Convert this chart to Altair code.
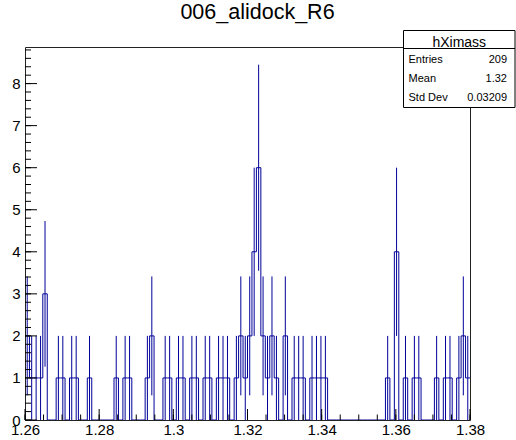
import altair as alt
import numpy as np
import pandas as pd

# Histogram definition: 100 bins over [1.26, 1.38]
X_LO, X_HI = 1.26, 1.38
BIN_W = 0.0012
Y_MAX = 8.87
counts = [
    2, 1, 1, 1, 3, 0, 0, 1, 1, 0,   # 1.2600 - 1.2720
    1, 1, 0, 0, 1, 0, 0, 0, 0, 0,   # 1.2720 - 1.2840
    1, 0, 1, 1, 0, 0, 0, 1, 2, 0,   # 1.2840 - 1.2960
    0, 1, 1, 0, 1, 1, 0, 1, 1, 0,   # 1.2960 - 1.3080
    1, 1, 0, 1, 1, 1, 0, 1, 2, 1,   # 1.3080 - 1.3200
    2, 4, 6, 2, 1, 2, 1, 0, 2, 0,   # 1.3200 - 1.3320
    1, 1, 1, 0, 1, 1, 1, 1, 0, 0,   # 1.3320 - 1.3440
    0, 0, 0, 0, 0, 0, 0, 0, 0, 0,   # 1.3440 - 1.3560
    0, 1, 0, 4, 0, 1, 0, 1, 1, 0,   # 1.3560 - 1.3680
    0, 0, 1, 0, 1, 1, 0, 1, 2, 1,   # 1.3680 - 1.3800
]

# Stats box
hist_name = "hXimass"
stat_names = ["Entries", "Mean", "Std Dev"]
stat_values = ["209", "1.32", "0.03209"]
title_text = "006_alidock_R6"

# Axis ticks
x_labels = [1.26, 1.28, 1.30, 1.32, 1.34, 1.36, 1.38]
x_minor = [round(1.26 + 0.005 * i, 3) for i in range(25)]
y_labels = [0, 1, 2, 3, 4, 5, 6, 7, 8]
y_minor = [round(0.2 * i, 1) for i in range(45)]

W, H = 445, 373
PAD_L, PAD_T = 25, 47
LINE = "#000099"
FONT = "Liberation Sans"

lo = [X_LO + i * BIN_W for i in range(len(counts))]
hist = pd.DataFrame({"lo": lo, "n": counts})
hist["hi"] = hist["lo"] + BIN_W
hist["c"] = hist["lo"] + BIN_W / 2
hist["elo"] = hist["n"] - np.sqrt(hist["n"])
hist["ehi"] = hist["n"] + np.sqrt(hist["n"])

step_pts = pd.DataFrame({
    "x": list(hist["lo"]) + [hist["hi"].iloc[-1]],
    "n": list(hist["n"]) + [hist["n"].iloc[-1]],
})

xs = alt.Scale(domain=[X_LO, X_HI], nice=False, zero=False)
ys = alt.Scale(domain=[0, Y_MAX], nice=False, zero=True)

step = alt.Chart(step_pts).mark_line(
    interpolate="step-after", color=LINE, strokeWidth=1, clip=True
).encode(
    x=alt.X("x:Q", scale=xs, axis=alt.Axis(
        values=x_labels, labelExpr="format(datum.value, '.2~f')",
        tickSize=0, domain=False, grid=False, labelFontSize=15,
        labelFont=FONT, labelColor="black", labelPadding=2, title=None,
        labelFlush=False, labelOverlap=False)),
    y=alt.Y("n:Q", scale=ys, axis=alt.Axis(
        values=y_labels, tickSize=0, domain=False, grid=False,
        labelFontSize=15, labelFont=FONT, labelColor="black",
        labelPadding=5, title=None, labelOverlap=False)),
)

errs = alt.Chart(hist[hist["n"] > 0]).mark_rule(
    color=LINE, strokeWidth=1, clip=True
).encode(
    x=alt.X("c:Q", scale=xs),
    y=alt.Y("elo:Q", scale=ys),
    y2="ehi:Q",
)

def tick_layer(vals, length, axis):
    d = pd.DataFrame({"t": vals})
    if axis == "x":
        return alt.Chart(d).mark_rule(color="black", strokeWidth=1).encode(
            x=alt.X("t:Q", scale=xs), y=alt.value(H), y2=alt.value(H - length))
    return alt.Chart(d).mark_rule(color="black", strokeWidth=1).encode(
        y=alt.Y("t:Q", scale=ys), x=alt.value(0), x2=alt.value(length))

ticks = [
    tick_layer(x_minor, 5.5, "x"),
    tick_layer(x_labels, 11, "x"),
    tick_layer(y_minor, 6, "y"),
    tick_layer(y_labels, 12, "y"),
]

one = pd.DataFrame({"k": [0]})
box_x0, box_x1, box_y0, box_y1 = 378.5, 490, -16.5, 60.5
box = alt.Chart(one).mark_rect(fill="white", stroke="black", strokeWidth=1).encode(
    x=alt.value(box_x0), x2=alt.value(box_x1),
    y=alt.value(box_y0), y2=alt.value(box_y1))
head_rule = alt.Chart(one).mark_rule(color="black", strokeWidth=1).encode(
    x=alt.value(box_x0), x2=alt.value(box_x1), y=alt.value(1.5))
head = alt.Chart(one).mark_text(
    text=hist_name, font=FONT, fontSize=14, baseline="middle", align="center"
).encode(x=alt.value((box_x0 + box_x1) / 2), y=alt.value(-4.5))

stats = pd.DataFrame({"name": stat_names, "val": stat_values, "row": [0, 1, 2]})
stats["yy"] = 13 + stats["row"] * 19
names = alt.Chart(stats).mark_text(
    font=FONT, fontSize=11, align="left", baseline="middle"
).encode(x=alt.value(box_x0 + 5), y=alt.Y("yy:Q", scale=None), text="name:N")
vals = alt.Chart(stats).mark_text(
    font=FONT, fontSize=11, align="right", baseline="middle"
).encode(x=alt.value(box_x1 - 8), y=alt.Y("yy:Q", scale=None), text="val:N")

title = alt.Chart(one).mark_text(
    text=title_text, font=FONT, fontSize=21.5, align="center", baseline="middle"
).encode(x=alt.value(232.5), y=alt.value(-34))

chart = alt.layer(
    step, errs, *ticks, box, head_rule, head, names, vals, title
).properties(
    width=W, height=H,
    padding={"left": PAD_L, "top": PAD_T,
             "right": 516 - PAD_L - W, "bottom": 440 - PAD_T - H},
    autosize=alt.AutoSizeParams(type="none"),
).configure_view(stroke="#222", strokeWidth=1)

chart.save("out.html", embed_options={"renderer": "svg", "actions": False})
